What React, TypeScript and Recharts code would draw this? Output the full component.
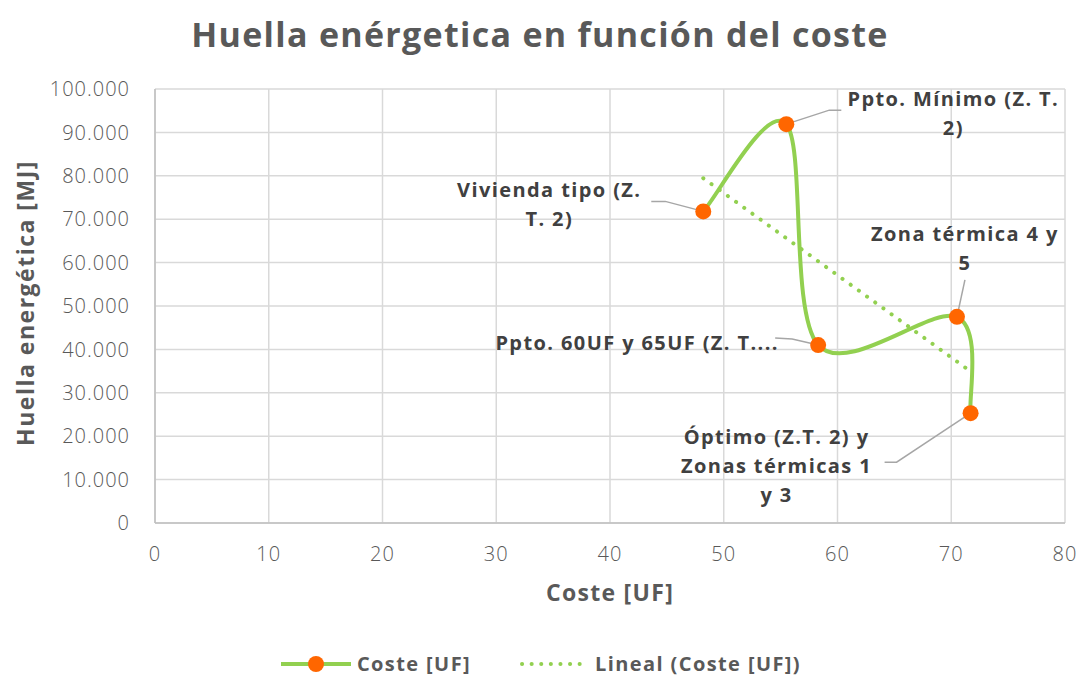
import { ComposedChart, Scatter, XAxis, YAxis, CartesianGrid, Legend, Label } from "recharts";

// Coste [UF] vs huella energética [MJ] for each studied envelope package
const costeUF = [48.2, 55.5, 58.3, 70.5, 71.7];
const huellaMJ = [71800, 91900, 41000, 47500, 25300];
const pointNames = [
  ["Vivienda tipo (Z.", "T. 2)"],
  ["Ppto. Mínimo (Z. T.", "2)"],
  ["Ppto. 60UF y 65UF (Z. T...."],
  ["Zona térmica 4 y", "5"],
  ["Óptimo (Z.T. 2) y", "Zonas térmicas 1", "y 3"],
];
const xTicks = [0, 10, 20, 30, 40, 50, 60, 70, 80];
const yTicks = [0, 10000, 20000, 30000, 40000, 50000, 60000, 70000, 80000, 90000, 100000];

const data = costeUF.map((x, i) => ({ x, y: huellaMJ[i], name: pointNames[i] }));

// pixel offsets of each data label (text centre) and of its leader line, relative to the marker
const labelLayout = [
  { dx: -154, dy: -22, leader: [[-52, -10], [-38, -10], [0, 0]] },
  { dx: 167, dy: -25, leader: [[55, -14], [43, -14], [0, 0]] },
  { dx: -181, dy: -2, leader: [[-43, -7], [-26, -6], [0, 0]] },
  { dx: 8, dy: -83, leader: [[8, -37], [0, 0]] },
  { dx: -194, dy: 24, leader: [[-86, 49], [-74, 49], [0, 0]] },
];

const GREEN = "#92D050";
const ORANGE = "#FF6600";
const FONT = "'Open Sans', sans-serif";

const fmt = (v: number) => v.toLocaleString("de-DE");

// Excel-style smoothed line: cardinal bezier with 1/6 tangents
function excelSmooth(context: any) {
  let pts: number[][] = [];
  return {
    areaStart() {},
    areaEnd() {},
    lineStart() {
      pts = [];
    },
    point(x: number, y: number) {
      pts.push([+x, +y]);
    },
    lineEnd() {
      if (!pts.length) return;
      context.moveTo(pts[0][0], pts[0][1]);
      for (let i = 0; i < pts.length - 1; i++) {
        const p0 = pts[Math.max(i - 1, 0)];
        const p1 = pts[i];
        const p2 = pts[i + 1];
        const p3 = pts[Math.min(i + 2, pts.length - 1)];
        context.bezierCurveTo(
          p1[0] + (p2[0] - p0[0]) / 6,
          p1[1] + (p2[1] - p0[1]) / 6,
          p2[0] - (p3[0] - p1[0]) / 6,
          p2[1] - (p3[1] - p1[1]) / 6,
          p2[0],
          p2[1]
        );
      }
    },
  };
}

function PointWithLabel(props: any) {
  const { cx, cy, index } = props;
  const lay = labelLayout[index];
  const lines = pointNames[index];
  const pts = lay.leader.map(([dx, dy]) => `${cx + dx},${cy + dy}`).join(" ");
  return (
    <g>
      <polyline points={pts} fill="none" stroke="#A6A6A6" strokeWidth={1.5} />
      <circle cx={cx} cy={cy} r={8} fill={ORANGE} />
      {lines.map((t, i) => (
        <text
          key={i}
          x={cx + lay.dx}
          y={cy + lay.dy + i * 29}
          dy="0.36em"
          textAnchor="middle"
          fontFamily={FONT}
          fontWeight={700}
          fontSize={20}
          letterSpacing={1.4}
          fill="#404040"
        >
          {t}
        </text>
      ))}
    </g>
  );
}

function LegendContent() {
  return (
    <div
      style={{
        display: "flex",
        justifyContent: "center",
        alignItems: "center",
        gap: 48,
        fontFamily: FONT,
        fontWeight: 700,
        fontSize: 20,
        letterSpacing: 1.4,
        color: "#595959",
      }}
    >
      <div style={{ display: "flex", alignItems: "center", gap: 4 }}>
        <svg width={74} height={20}>
          <line x1={2} y1={10} x2={72} y2={10} stroke={GREEN} strokeWidth={4} />
          <circle cx={37} cy={10} r={8} fill={ORANGE} />
        </svg>
        <span>Coste [UF]</span>
      </div>
      <div style={{ display: "flex", alignItems: "center", gap: 4 }}>
        <svg width={72} height={20}>
          <line x1={3} y1={10} x2={70} y2={10} stroke={GREEN} strokeWidth={4} strokeDasharray="0.1 9.5" strokeLinecap="round" />
        </svg>
        <span>Lineal (Coste [UF])</span>
      </div>
    </div>
  );
}

export default function App() {
  return (
    <div style={{ position: "absolute", left: 0, top: 0, width: 1080, height: 675, background: "#fff" }}>
      <div
        style={{
          position: "absolute",
          top: 11,
          width: 1080,
          textAlign: "center",
          fontFamily: FONT,
          fontWeight: 700,
          fontSize: 34,
          letterSpacing: 1.3,
          color: "#595959",
        }}
      >
        Huella enérgetica en función del coste
      </div>
      <ComposedChart width={1080} height={675} margin={{ top: 89, right: 15, bottom: 42, left: 0 }}>
        <CartesianGrid stroke="#D9D9D9" strokeWidth={1.5} />
        <XAxis
          type="number"
          dataKey="x"
          domain={[0, 80]}
          ticks={xTicks}
          height={80}
          tickSize={0}
          tickMargin={24}
          tickLine={false}
          axisLine={{ stroke: "#BFBFBF", strokeWidth: 1.5 }}
          tick={{ fill: "#595959", fontSize: 20, fontFamily: FONT, fontWeight: 300, letterSpacing: 1 }}
          allowDataOverflow
        >
          <Label
            value="Coste [UF]"
            position="insideBottom"
            offset={2}
            fill="#595959"
            fontFamily={FONT}
            fontWeight={700}
            fontSize={23}
            letterSpacing={1.3}
          />
        </XAxis>
        <YAxis
          type="number"
          dataKey="y"
          domain={[0, 100000]}
          ticks={yTicks}
          width={155}
          tickSize={0}
          tickMargin={25}
          tickLine={false}
          tickFormatter={fmt}
          axisLine={{ stroke: "#BFBFBF", strokeWidth: 1.5 }}
          tick={{ fill: "#595959", fontSize: 20, fontFamily: FONT, fontWeight: 300, letterSpacing: 1 }}
          allowDataOverflow
        >
          <Label
            content={() => (
              <text
                x={26}
                y={303}
                transform="rotate(-90, 26, 303)"
                textAnchor="middle"
                dy="0.36em"
                fontFamily={FONT}
                fontWeight={700}
                fontSize={23}
                letterSpacing={1.5}
                fill="#595959"
              >
                Huella energética [MJ]
              </text>
            )}
          />
        </YAxis>
        <Legend content={<LegendContent />} wrapperStyle={{ top: 650, bottom: "auto", left: 0, width: 1080 }} height={30} />
        <Scatter
          name="Coste [UF]"
          data={data}
          line={{ stroke: GREEN, strokeWidth: 4 }}
          lineJointType={excelSmooth as any}
          shape={<PointWithLabel />}
          isAnimationActive={false}
        />
        <Scatter
          name="Lineal (Coste [UF])"
          data={data}
          line={{ stroke: GREEN, strokeWidth: 4, strokeDasharray: "0.1 10", strokeLinecap: "round" }}
          lineType="fitting"
          shape={() => <g />}
          isAnimationActive={false}
        />
      </ComposedChart>
    </div>
  );
}
